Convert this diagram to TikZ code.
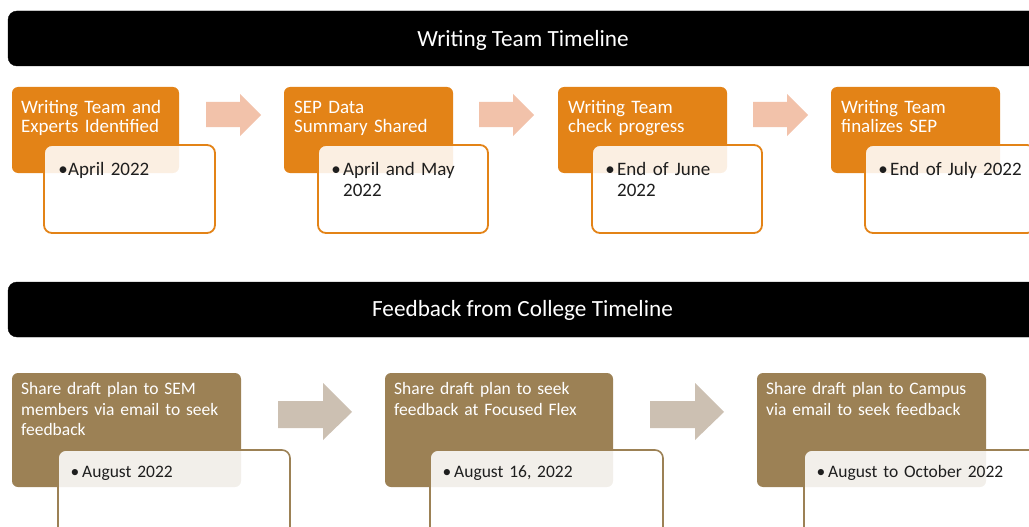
\documentclass[tikz,border=0pt]{standalone}
\usepackage{fontspec}
\setmainfont{Carlito}
\definecolor{orng}{RGB}{227,131,23}
\definecolor{brwn}{RGB}{156,129,85}
\definecolor{oarrow}{RGB}{242,194,170}
\definecolor{barrow}{RGB}{204,192,178}
\definecolor{datetxt}{RGB}{30,30,30}
\begin{document}
\begin{tikzpicture}[x=1pt,y=-1pt,
  banner/.style={fill=black,rounded corners=9pt},
  bannertext/.style={text=white,font={\fontsize{23.2}{25}\selectfont},inner sep=0pt,anchor=base},
  obox/.style={fill=orng,rounded corners=6pt},
  bbox/.style={fill=brwn,rounded corners=6pt},
  odate/.style={draw=orng,line width=1.8pt,fill=white,fill opacity=0.88,rounded corners=8pt},
  bdate/.style={draw=brwn,line width=1.6pt,fill=white,fill opacity=0.88,rounded corners=8pt},
  otext/.style={text=white,font={\fontsize{19}{19.5}\selectfont},inner sep=0pt,anchor=north west,text width=200pt,align=left},
  btext/.style={text=white,font={\fontsize{17.5}{20.5}\selectfont},inner sep=0pt,anchor=north west,text width=240pt,align=left},
  odtext/.style={text=datetxt,font={\fontsize{19}{21}\selectfont},inner sep=0pt,anchor=north west,text width=200pt,align=left},
  bdtext/.style={text=datetxt,font={\fontsize{17.5}{20.5}\selectfont},inner sep=0pt,anchor=north west,text width=240pt,align=left},
  obul/.style={text=datetxt,font={\fontsize{19}{21}\selectfont},inner sep=0pt,anchor=base},
  bbul/.style={text=datetxt,font={\fontsize{17.5}{20.5}\selectfont},inner sep=0pt,anchor=base},
  oarr/.style={fill=oarrow},
  barr/.style={fill=barrow}]
\useasboundingbox (0,0) rectangle (1029,527);
\clip (0,0) rectangle (1029,527);

% banners
\draw[banner] (8,11) rectangle (1045,66);
\node[bannertext] (title1) at (523,46.5) {Writing Team Timeline};
\draw[banner] (8,282) rectangle (1045,337);
\node[bannertext] (title2) at (522.5,316.5) {Feedback from College Timeline};

% top row boxes
\fill[obox] (12,87) rectangle (179,173);
\fill[obox] (284,87) rectangle (453,173);
\fill[obox] (558,87) rectangle (727,173);
\fill[obox] (831,87) rectangle (1000,173);
\node[otext] (o1) at (21,98.3) {\rule{0pt}{15pt}Writing Team and\\Experts Identified};
\node[otext] (o2) at (294,98.3) {\rule{0pt}{15pt}SEP Data\\Summary Shared};
\node[otext] (o3) at (568,98.3) {\rule{0pt}{15pt}Writing Team\\check progress};
\node[otext] (o4) at (841,98.3) {\rule{0pt}{15pt}Writing Team\\finalizes SEP};

\draw[odate] (44,145) rectangle (215,233);
\draw[odate] (318,145) rectangle (488,233);
\draw[odate] (592,145) rectangle (762,233);
\draw[odate] (865,145) rectangle (1035,233);
\node[obul] (ob1) at (63,175.7) {\textbullet};
\node[obul] (ob2) at (336,175.7) {\textbullet};
\node[obul] (ob3) at (610,175.7) {\textbullet};
\node[obul] (ob4) at (883,175.7) {\textbullet};
\node[odtext] (d1) at (68,160.7) {\rule{0pt}{15pt}April 2022};
\node[odtext] (d2) at (343,160.7) {\rule{0pt}{15pt}April and May\\2022};
\node[odtext] (d3) at (617,160.7) {\rule{0pt}{15pt}End of June\\2022};
\node[odtext] (d4) at (890,160.7) {\rule{0pt}{15pt}End of July 2022};

% top arrows
\fill[oarr] (206,102) -- (240,102) -- (240,94) -- (261,115) -- (240,136) -- (240,127) -- (206,127) -- cycle;
\fill[oarr] (479,102) -- (513,102) -- (513,94) -- (534,115) -- (513,136) -- (513,127) -- (479,127) -- cycle;
\fill[oarr] (753,102) -- (787,102) -- (787,94) -- (808,115) -- (787,136) -- (787,127) -- (753,127) -- cycle;

% bottom row boxes
\fill[bbox] (12,373) rectangle (241,487);
\fill[bbox] (385,373) rectangle (613,487);
\fill[bbox] (757,373) rectangle (986,487);
\node[btext] (f1) at (21,379.5) {\rule{0pt}{15pt}Share draft plan to SEM\\members via email to seek\\feedback};
\node[btext] (f2) at (394,379.5) {\rule{0pt}{15pt}Share draft plan to seek\\feedback at Focused Flex};
\node[btext] (f3) at (766,379.5) {\rule{0pt}{15pt}Share draft plan to Campus\\via email to seek feedback};

\draw[bdate] (58,450) rectangle (290,545);
\draw[bdate] (430,450) rectangle (663,545);
\draw[bdate] (804,450) rectangle (1037,545);
\node[bbul] (bb1) at (75,477.5) {\textbullet};
\node[bbul] (bb2) at (447,477.5) {\textbullet};
\node[bbul] (bb3) at (821,477.5) {\textbullet};
\node[bdtext] (g1) at (82,462.5) {\rule{0pt}{15pt}August 2022};
\node[bdtext] (g2) at (454,462.5) {\rule{0pt}{15pt}August 16, 2022};
\node[bdtext] (g3) at (828,462.5) {\rule{0pt}{15pt}August to October 2022};

% bottom arrows
\fill[barr] (278,401) -- (323,401) -- (323,383) -- (352,412) -- (323,440) -- (323,428) -- (278,428) -- cycle;
\fill[barr] (650,401) -- (695,401) -- (695,383) -- (724,412) -- (695,440) -- (695,428) -- (650,428) -- cycle;
\end{tikzpicture}
\end{document}
